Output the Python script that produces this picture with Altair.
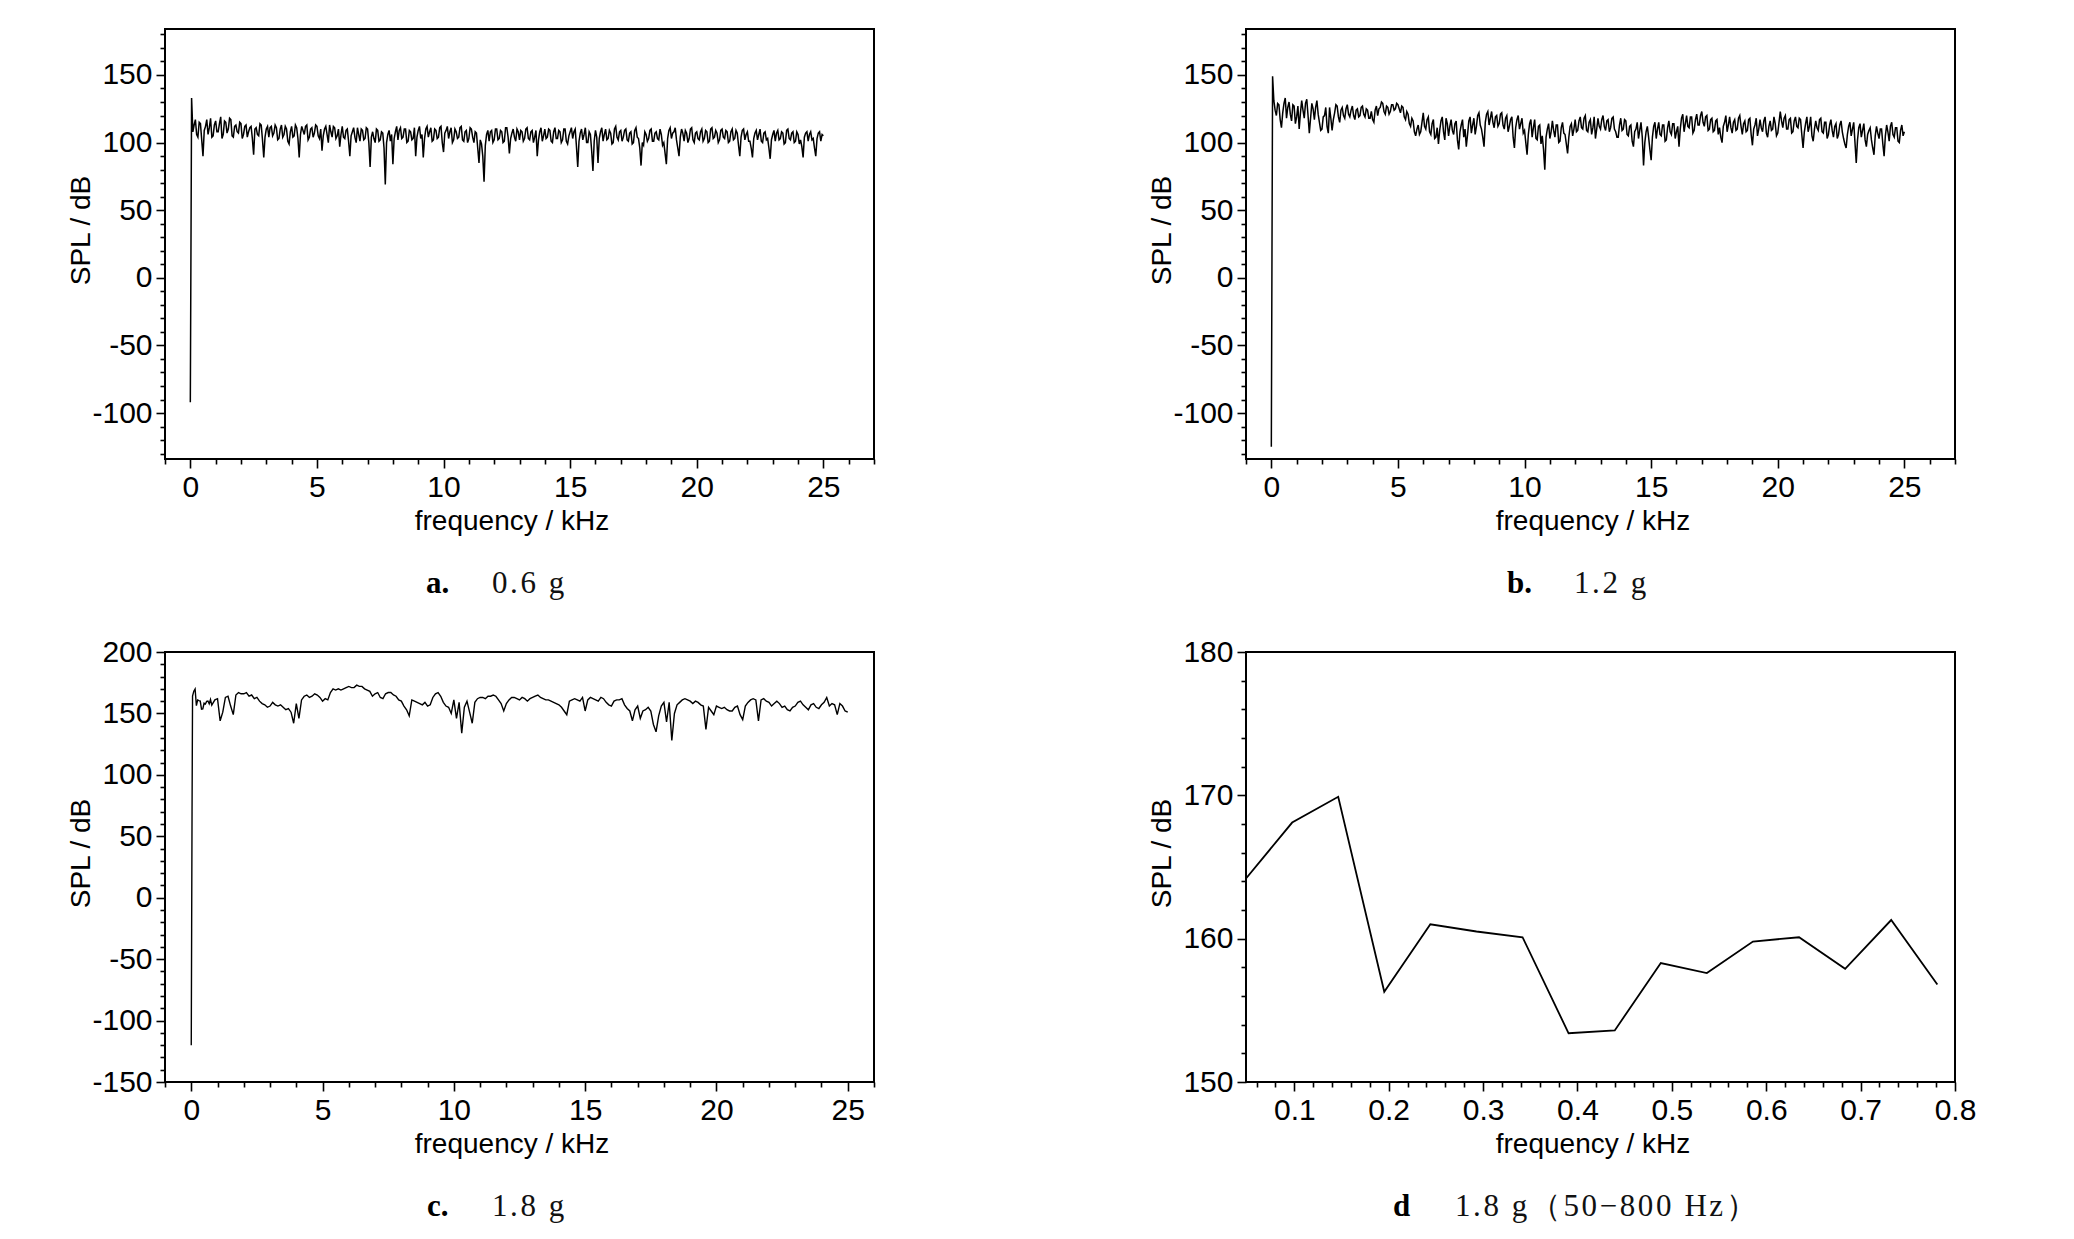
import altair as alt
import pandas as pd

# ---------------- data ----------------
# a: 0.6 g  -- first two bins, then 0.10 ... 25.00 kHz in 0.05 kHz steps
a_head_freq = [0.0, 0.05]
a_head_spl = [-92, 133]
a_spl = [
    108, 113, 117, 106, 104, 115, 114, 102, 90, 109, 112, 117, 106, 111, 118, 104, 105, 113, 116, 108,
    108, 114, 119, 103, 106, 116, 115, 107, 110, 118, 117, 105, 104, 112, 113, 108, 107, 115, 114, 103,
    106, 112, 113, 104, 108, 111, 112, 103, 91, 110, 111, 106, 105, 114, 113, 102, 89, 104, 110, 112,
    104, 111, 112, 105, 107, 113, 111, 102, 103, 110, 113, 104, 106, 112, 110, 101, 99, 108, 112, 104,
    105, 113, 111, 103, 89, 106, 112, 109, 106, 112, 113, 102, 104, 110, 111, 104, 107, 113, 112, 105,
    103, 110, 94, 105, 110, 112, 106, 100, 113, 108, 104, 112, 111, 103, 105, 110, 97, 106, 112, 104,
    103, 109, 110, 101, 90, 105, 108, 111, 104, 100, 111, 106, 101, 110, 109, 102, 103, 111, 110, 100,
    82, 104, 108, 103, 100, 110, 109, 101, 102, 108, 107, 96, 69, 100, 106, 109, 101, 106, 84, 103,
    108, 112, 102, 109, 111, 103, 104, 110, 110, 100, 101, 109, 108, 102, 103, 111, 90, 104, 109, 112,
    103, 106, 89, 103, 110, 112, 104, 108, 111, 101, 102, 110, 109, 103, 104, 111, 112, 100, 93, 107,
    109, 112, 103, 108, 111, 100, 102, 110, 108, 103, 104, 111, 112, 102, 101, 108, 109, 100, 103, 111,
    110, 104, 100, 108, 107, 96, 85, 102, 99, 90, 71, 98, 106, 109, 101, 108, 109, 100, 102, 110,
    110, 102, 103, 109, 108, 100, 101, 111, 111, 104, 92, 103, 107, 110, 104, 101, 110, 108, 102, 109,
    108, 101, 103, 110, 111, 103, 102, 108, 109, 100, 104, 109, 90, 102, 108, 111, 101, 105, 110, 103,
    104, 110, 109, 101, 100, 108, 111, 103, 103, 109, 108, 100, 102, 110, 110, 101, 99, 105, 108, 111,
    103, 108, 110, 97, 82, 101, 107, 110, 102, 106, 111, 100, 100, 108, 106, 94, 79, 101, 109, 104,
    85, 103, 108, 111, 101, 106, 110, 102, 103, 109, 107, 99, 100, 110, 112, 104, 102, 108, 109, 101,
    104, 109, 110, 102, 101, 107, 108, 99, 100, 109, 111, 104, 103, 96, 83, 100, 98, 108, 106, 101,
    103, 109, 110, 101, 101, 107, 108, 103, 102, 110, 106, 98, 100, 92, 84, 103, 109, 111, 103, 107,
    108, 111, 102, 96, 90, 104, 110, 107, 101, 109, 107, 100, 103, 110, 111, 102, 100, 107, 108, 103,
    102, 108, 110, 101, 103, 109, 108, 100, 101, 110, 111, 103, 104, 109, 107, 100, 102, 109, 110, 104,
    103, 109, 108, 100, 101, 108, 110, 102, 103, 109, 107, 98, 90, 104, 109, 110, 102, 106, 108, 101,
    101, 96, 89, 103, 107, 109, 102, 106, 110, 101, 100, 107, 108, 102, 103, 96, 88, 102, 106, 109,
    101, 107, 109, 102, 103, 108, 107, 99, 100, 109, 110, 103, 102, 107, 108, 100, 101, 108, 106, 99,
    102, 97, 89, 104, 107, 108, 101, 106, 108, 102, 103, 96, 90, 103, 107, 108, 101, 106, 105,
]

# b: 1.2 g
b_head_freq = [0.0, 0.05]
b_head_spl = [-125, 149]
b_spl = [
    131, 124, 120, 129, 128, 117, 111, 122, 129, 133, 118, 126, 130, 121, 116, 128, 127, 114, 119, 127,
    110, 122, 131, 124, 118, 129, 132, 120, 107, 118, 129, 125, 117, 126, 131, 121, 115, 109, 110, 119,
    120, 126, 112, 107, 126, 118, 109, 117, 122, 128, 127, 119, 115, 124, 126, 120, 118, 125, 128, 121,
    119, 124, 127, 120, 117, 124, 125, 119, 120, 126, 127, 121, 119, 125, 124, 118, 118, 123, 117, 115,
    124, 127, 120, 125, 126, 130, 129, 123, 121, 127, 126, 121, 123, 128, 128, 124, 125, 129, 128, 125,
    122, 127, 126, 119, 117, 123, 121, 114, 112, 118, 116, 108, 105, 110, 113, 106, 108, 115, 122, 112,
    110, 117, 119, 108, 106, 114, 117, 103, 104, 111, 99, 109, 116, 119, 108, 102, 118, 114, 105, 112,
    117, 109, 106, 114, 116, 102, 95, 108, 113, 117, 104, 110, 97, 106, 116, 119, 107, 113, 118, 106,
    112, 120, 122, 113, 110, 104, 97, 115, 121, 123, 113, 118, 123, 115, 111, 119, 120, 112, 114, 121,
    122, 113, 110, 118, 120, 108, 112, 117, 119, 104, 96, 111, 117, 120, 110, 114, 118, 107, 109, 100,
    91, 106, 114, 117, 104, 111, 117, 103, 102, 112, 113, 99, 105, 95, 80, 104, 110, 114, 103, 108,
    116, 109, 104, 113, 113, 100, 101, 111, 115, 107, 106, 99, 92, 104, 112, 114, 105, 110, 117, 108,
    109, 116, 119, 111, 110, 118, 120, 109, 108, 115, 117, 106, 111, 119, 103, 110, 118, 112, 110, 117,
    120, 112, 109, 116, 117, 108, 111, 118, 119, 110, 108, 104, 104, 113, 118, 109, 110, 117, 116, 106,
    105, 112, 113, 101, 97, 108, 110, 115, 103, 109, 115, 104, 83, 100, 108, 112, 104, 95, 87, 104,
    112, 115, 103, 110, 115, 106, 105, 113, 113, 101, 102, 111, 116, 108, 106, 114, 114, 103, 108, 112,
    97, 110, 118, 121, 108, 114, 120, 112, 111, 119, 119, 107, 109, 117, 121, 113, 113, 120, 123, 115,
    112, 119, 120, 109, 110, 117, 118, 108, 109, 116, 117, 106, 111, 104, 100, 112, 115, 120, 108, 113,
    119, 111, 107, 115, 117, 109, 110, 118, 120, 112, 106, 114, 116, 108, 109, 117, 118, 106, 98, 110,
    113, 118, 105, 110, 117, 111, 108, 116, 119, 107, 104, 112, 116, 109, 110, 119, 114, 105, 107, 115,
    123, 116, 111, 118, 120, 110, 110, 117, 118, 107, 108, 116, 119, 112, 111, 118, 117, 106, 96, 108,
    114, 119, 108, 112, 119, 105, 101, 110, 116, 111, 109, 117, 118, 108, 107, 115, 115, 103, 106, 113,
    117, 109, 104, 112, 114, 103, 106, 113, 116, 108, 103, 99, 96, 106, 112, 115, 105, 110, 115, 100,
    85, 102, 111, 114, 104, 109, 114, 102, 97, 106, 109, 111, 102, 96, 91, 105, 112, 107, 103, 110,
    110, 99, 90, 105, 113, 108, 101, 112, 115, 106, 104, 111, 111, 101, 100, 109, 113, 105, 108,
]

# d: 1.8 g, 50-800 Hz (also the start of c)
d_freq = [0.0488, 0.0977, 0.1465, 0.1953, 0.2441, 0.2930, 0.3418, 0.3906,
          0.4395, 0.4883, 0.5371, 0.5859, 0.6348, 0.6836, 0.7324, 0.7813]
d_spl = [164.2, 168.1, 169.9, 156.3, 161.0, 160.5, 160.1, 153.4,
         153.6, 158.3, 157.6, 159.8, 160.1, 157.9, 161.3, 156.8]

# c: 1.8 g -- head bins, the d bins, then 0.9 ... 25.0 kHz in 0.1 kHz steps
c_head_freq = [0.0, 0.015, 0.03]
c_head_spl = [-120, -25, 70]
c_spl = [
    161, 162, 144, 151, 163, 164, 156, 149, 165, 167,
    166, 166, 167, 164, 165, 162, 163, 160, 158, 157,
    155, 156, 159, 157, 156, 157, 155, 153, 154, 151,
    142, 158, 146, 161, 164, 165, 163, 164, 166, 165,
    163, 160, 162, 161, 167, 170, 169, 170, 169, 170,
    171, 172, 171, 171, 173, 172, 172, 170, 169, 168,
    164, 166, 167, 163, 162, 166, 167, 167, 165, 164,
    161, 160, 156, 153, 148, 161, 160, 159, 158, 157,
    159, 156, 157, 163, 166, 167, 164, 159, 156, 155,
    150, 161, 146, 159, 134, 155, 160, 151, 142, 159,
    162, 163, 163, 162, 164, 164, 165, 164, 161, 158,
    152, 158, 161, 163, 163, 162, 161, 163, 162, 160,
    162, 163, 164, 165, 163, 162, 161, 161, 160, 159,
    158, 157, 155, 152, 149, 160, 161, 162, 161, 160,
    163, 152, 161, 163, 162, 161, 160, 163, 162, 159,
    157, 156, 160, 161, 161, 162, 157, 154, 152, 144,
    153, 156, 146, 152, 153, 155, 152, 141, 135, 148,
    156, 159, 143, 159, 128, 150, 157, 159, 161, 162,
    161, 160, 158, 160, 159, 157, 156, 137, 155, 152,
    149, 156, 155, 154, 155, 153, 152, 152, 155, 156,
    149, 145, 156, 159, 161, 162, 161, 144, 161, 162,
    160, 159, 156, 158, 160, 158, 155, 156, 153, 152,
    155, 156, 159, 160, 157, 155, 153, 157, 158, 155,
    154, 157, 159, 163, 156, 158, 157, 149, 158, 156,
    152, 151,
]

# axis tick values
ab_x_ticks = list(range(-1, 28))
c_x_ticks = list(range(-1, 27))
ab_y_ticks = list(range(-130, 181, 10))
c_y_ticks = list(range(-150, 201, 10))
d_x_ticks = [round(0.06 + 0.02 * i, 2) for i in range(38)]
d_y_ticks = list(range(150, 181, 2))

captions = {
    "a": ("a.", "0.6 g"),
    "b": ("b.", "1.2 g"),
    "c": ("c.", "1.8 g"),
    "d": ("d", "1.8 g\uff0850\u2212800 Hz\uff09"),
}

# ---------------- styling ----------------
SANS = "Liberation Sans, Arial, Helvetica, sans-serif"
SERIF = "Liberation Serif, Times New Roman, DejaVu Serif, serif"
W, H = 709, 430
CAP_Y = 564


def spaced(s):
    # widen the caption glyph spacing like the typeset original
    return "\u200a".join(list(s))


def spectrum(head_f, head_v, vals, start, step):
    f = list(head_f) + [round(start + step * i, 3) for i in range(len(vals))]
    return pd.DataFrame({"f": f, "spl": list(head_v) + list(vals)})


def make_axis(values, major, label, title, is_x):
    kw = dict(
        values=values, title=title, grid=False, domain=False,
        tickColor="black", tickWidth=1.6,
        tickSize={"condition": {"test": major, "value": 9}, "value": 5},
        labelExpr=f"({major}) ? {label} : ''",
        labelFont=SANS, labelFontSize=30, labelColor="black", labelPadding=4,
        labelOverlap=False, labelFlush=False, labelBound=False,
        titleFont=SANS, titleFontSize=28, titleFontWeight="normal",
        titleColor="black", titleBaseline="middle", titleAlign="center",
    )
    if is_x:
        kw["titleY"] = 62
        kw["titleX"] = W / 2 - 8
    else:
        kw["titleX"] = -84
        kw["titleY"] = H / 2 - 14
    return alt.Axis(**kw)


def caption_layer(key, lx, tx):
    letter, text = captions[key]
    df = pd.DataFrame({"l": [letter], "t": [spaced(text)]})
    base = alt.Chart(df)
    bold = base.mark_text(font=SERIF, fontSize=31, fontWeight="bold",
                          align="left", baseline="alphabetic",
                          color="black").encode(
        text="l:N", x=alt.value(lx), y=alt.value(CAP_Y))
    norm = base.mark_text(font=SERIF, fontSize=31, align="left",
                          baseline="alphabetic", color="#111111").encode(
        text="t:N", x=alt.value(tx), y=alt.value(CAP_Y))
    return bold, norm


def panel(df, xdom, ydom, xax, yax, key, lx, tx, sw):
    line = alt.Chart(df).mark_line(color="black", strokeWidth=sw).encode(
        x=alt.X("f:Q", scale=alt.Scale(domain=xdom, nice=False, zero=False),
                axis=xax),
        y=alt.Y("spl:Q", scale=alt.Scale(domain=ydom, nice=False, zero=False),
                axis=yax),
    )
    bold, norm = caption_layer(key, lx, tx)
    return alt.layer(line, bold, norm).properties(width=W, height=H)


int_label = "'' + datum.value"

ab_x_axis = make_axis(ab_x_ticks, "datum.value % 5 === 0", int_label,
                      "frequency / kHz", True)
ab_y_axis = make_axis(ab_y_ticks, "datum.value % 50 === 0", int_label,
                      "SPL / dB", False)
c_x_axis = make_axis(c_x_ticks, "datum.value % 5 === 0", int_label,
                     "frequency / kHz", True)
c_y_axis = make_axis(c_y_ticks, "datum.value % 50 === 0", int_label,
                     "SPL / dB", False)
d_x_axis = make_axis(d_x_ticks,
                     "abs(datum.value * 10 - round(datum.value * 10)) < 0.001",
                     "format(datum.value, '.1f')", "frequency / kHz", True)
d_y_axis = make_axis(d_y_ticks, "datum.value % 10 === 0", int_label,
                     "SPL / dB", False)

df_a = spectrum(a_head_freq, a_head_spl, a_spl, 0.1, 0.05)
df_b = spectrum(b_head_freq, b_head_spl, b_spl, 0.1, 0.05)
df_c = spectrum(c_head_freq + d_freq, c_head_spl + d_spl, c_spl, 0.9, 0.1)
df_d = pd.DataFrame({"f": d_freq, "spl": d_spl})

pa = panel(df_a, [-1, 27], [-134, 184], ab_x_axis, ab_y_axis, "a", 261, 327, 1.5)
pb = panel(df_b, [-1, 27], [-134, 184], ab_x_axis, ab_y_axis, "b", 261, 328, 1.5)
pc = panel(df_c, [-1, 26], [-150, 200], c_x_axis, c_y_axis, "c", 262, 327, 1.4)
pd_ = panel(df_d, [0.0488, 0.8], [150, 180], d_x_axis, d_y_axis, "d", 147, 209, 1.8)

chart = alt.concat(
    pa, pb, pc, pd_, columns=2,
    spacing={"row": 193, "column": 372}, bounds="flush",
).properties(
    padding={"left": 58, "top": 10, "right": 10, "bottom": 10},
    background="white",
).configure_view(stroke="black", strokeWidth=2)

chart.save("out.html", embed_options={"renderer": "svg", "actions": False})
